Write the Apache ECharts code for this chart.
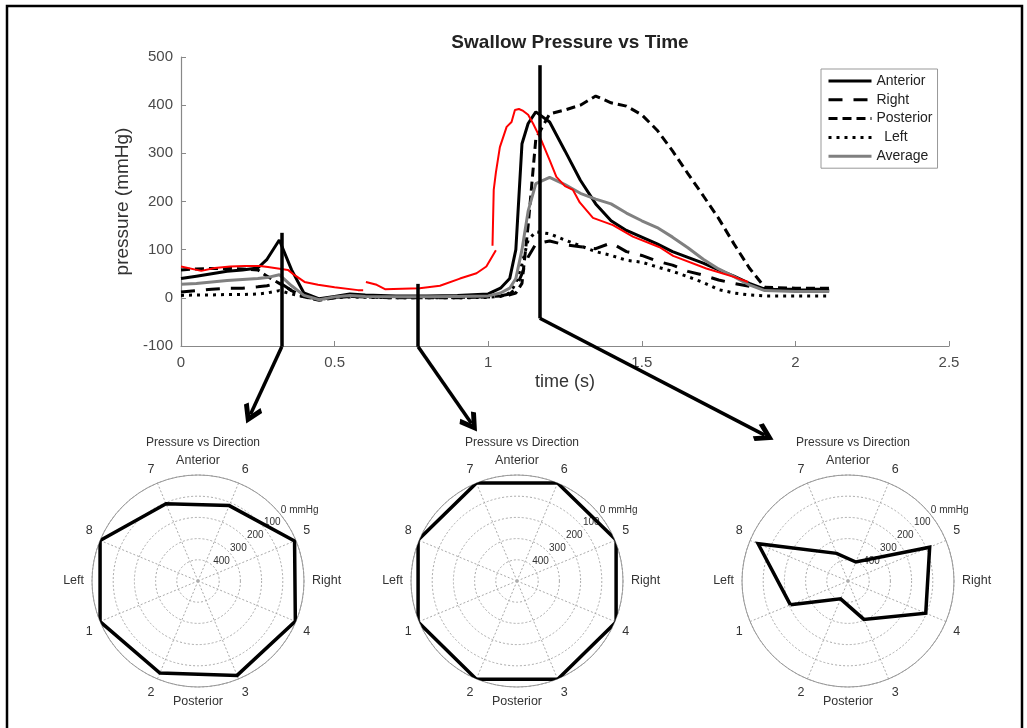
<!DOCTYPE html>
<html>
<head>
<meta charset="utf-8">
<title>Swallow Pressure vs Time</title>
<script src="https://cdn.jsdelivr.net/npm/echarts@6/dist/echarts.min.js"></script>
<style>
  html, body { margin: 0; padding: 0; background: #fff; }
  #chart { width: 1027px; height: 728px; }
</style>
</head>
<body>
<div id="chart"></div>
<script>
// time base (s) and pressure traces (mmHg)
const timeS = [0, 0.05, 0.1, 0.15, 0.2, 0.25, 0.28, 0.32, 0.36, 0.4, 0.45, 0.5, 0.55, 0.6, 0.7, 0.8, 0.9, 1.0,
  1.04, 1.07, 1.09, 1.11, 1.13, 1.155, 1.2, 1.25, 1.3, 1.35, 1.4, 1.45, 1.5, 1.55, 1.6, 1.65, 1.7, 1.75, 1.8,
  1.85, 1.9, 2.0, 2.11];
const anterior = [40, 45, 50, 55, 58, 62, 80, 120, 58, 10, -2, 3, 8, 6, 4, 4, 5, 8,
  20, 40, 100, 320, 362, 386, 365, 305, 244, 195, 160, 140, 126, 112, 96, 84, 72, 58, 45, 30, 18, 17, 16];
const right = [12, 15, 18, 20, 20, 23, 25, 32, 15, 3, -3, 1, 3, 2, 1, 1, 1, 2,
  4, 8, 20, 50, 85, 112, 118, 110, 106, 102, 114, 96, 88, 76, 68, 55, 47, 37, 30, 24, 18, 18, 18];
const posterior = [58, 60, 61, 61, 60, 58, 45, 30, 15, 2, -5, 0, 3, 2, 0, 0, 0, 2,
  4, 6, 10, 30, 150, 330, 382, 390, 400, 419, 405, 398, 380, 348, 305, 258, 212, 165, 112, 62, 22, 20, 20];
const left = [5, 6, 6, 7, 7, 8, 10, 15, 8, 2, -3, 0, 2, 1, 0, 0, 0, 1,
  3, 10, 30, 70, 120, 137, 133, 120, 108, 96, 88, 78, 74, 64, 55, 44, 32, 17, 10, 6, 4, 4, 4];
const average = [28, 30, 33, 36, 38, 40, 42, 48, 25, 5, -4, 2, 5, 3, 2, 2, 3, 4,
  10, 20, 40, 100, 180, 237, 250, 235, 217, 205, 195, 176, 160, 146, 126, 104, 80, 60, 44, 27, 15, 13, 13];

// hand-drawn red trace (null = pen lifted)
const redT = [0, 0.066, 0.11, 0.16, 0.207, 0.257, 0.283, 0.348, 0.37, 0.402, 0.446, 0.5, 0.576, 0.593, 0.598,
  0.602, 0.637, 0.664, 0.72, 0.777, 0.843, 0.908, 0.962, 0.994, 1.025, 1.02,
  1.014, 1.018, 1.025, 1.038, 1.06, 1.076, 1.087, 1.1, 1.114, 1.13, 1.146, 1.173, 1.2, 1.222,
  1.25, 1.276, 1.298, 1.341, 1.406, 1.471, 1.558, 1.602, 1.71, 1.797, 1.846];
const redV = [65, 56, 62, 65, 66, 66, 64, 58, 47, 33, 27, 22, 16, 16, null,
  33, 27, 18, 19, 20, 25, 40, 51, 65, 99, null,
  108, 224, 260, 313, 355, 365, 390, 392, 388, 380, 362, 327, 286, 251,
  232, 224, 198, 166, 151, 127, 105, 87, 61, 44, 33];

// annotation: stems at the snapshot times, then arrows down to the polar plots
const stemT = [0.328, 0.772, 1.168];
const stemTopV = [135, 29, 483];
const stemBottomV = [-101.5, -101.5, -42.5];
const arrowEndT = [0.226, 0.945, 1.9];
const arrowEndV = [-242, -260.6, -285];

// polar snapshots: sensors 1..8, pressure in mmHg
const sensorLabels = ['1', '2', '3', '4', '5', '6', '7', '8'];
const sensorAngles = [202.5, 247.5, 292.5, 337.5, 22.5, 67.5, 112.5, 157.5];
const directionLabels = ['Right', 'Anterior', 'Left', 'Posterior'];
const directionAngles = [0, 90, 180, 270];
const snapshots = [
  [0, 30, 18, 3, 7, 115, 106, 0],
  [-5, -1, -2, -6, -6, 0, 0, -5],
  [206, 409, 304, 103, 83, 403, 359, 41]
];
const radiusTicks = [0, 100, 200, 300, 400];

const FONT = '"Liberation Sans", Arial, Helvetica, sans-serif';
const polarCenters = [198, 517, 848];
const polarY = 581;
const polarR = 106;

function pairs(xs, ys) {
  return xs.map((x, i) => [x, ys[i]]);
}

function angleLabel(v) {
  let i = sensorAngles.findIndex(a => Math.abs(a - v) < 1e-6);
  if (i >= 0) return sensorLabels[i];
  i = directionAngles.findIndex(a => Math.abs(a - v) < 1e-6);
  return i >= 0 ? directionLabels[i] : '';
}

const chart = echarts.init(document.getElementById('chart'));

const lineSeries = (name, data, color, dash, width) => ({
  name: name,
  type: 'line',
  data: pairs(timeS, data),
  symbol: 'none',
  lineStyle: { color: color, width: width, type: dash, cap: 'butt' },
  itemStyle: { color: color },
  z: 3
});

const arrowPath = 'path://M10,0 L20,13 L16.5,16 L10,7.5 L3.5,16 L0,13 Z';

const polars = [];
const angleAxes = [];
const radiusAxes = [];
const titles = [{
  text: 'Swallow Pressure vs Time',
  left: 565, top: 28, textAlign: 'center',
  textStyle: { fontSize: 19, fontWeight: 'bold', color: '#222', fontFamily: FONT }
}];
const polarSeries = [];

polarCenters.forEach((cx, k) => {
  polars.push({ center: [cx, polarY], radius: polarR });
  polars.push({ center: [cx, polarY], radius: polarR });
  angleAxes.push({
    polarIndex: 2 * k, type: 'value', min: 0, max: 360, interval: 22.5,
    startAngle: 0, clockwise: false,
    axisLine: { lineStyle: { color: '#999', width: 1 } },
    axisTick: { show: false },
    axisLabel: { margin: 8, fontSize: 12.5, color: '#333', fontFamily: FONT, formatter: angleLabel },
    splitLine: { show: true, lineStyle: { color: ['rgba(0,0,0,0)', '#aaa'], width: 1, type: [2, 2] } }
  });
  angleAxes.push({
    polarIndex: 2 * k + 1, type: 'value', min: 0, max: 360, startAngle: 37, show: false
  });
  radiusAxes.push({
    polarIndex: 2 * k, type: 'value', min: 0, max: 500, interval: 100, inverse: true,
    axisLine: { show: false }, axisTick: { show: false }, axisLabel: { show: false },
    splitLine: { show: true, lineStyle: { color: '#aaa', width: 1, type: [2, 2] } }
  });
  radiusAxes.push({
    polarIndex: 2 * k + 1, type: 'value', min: 0, max: 500, interval: 100, inverse: true,
    axisLine: { show: false }, axisTick: { show: false }, splitLine: { show: false },
    axisLabel: {
      show: true, margin: 3, fontSize: 10, color: '#333', fontFamily: FONT,
      align: 'left', verticalAlign: 'bottom',
      formatter: v => radiusTicks.indexOf(v) < 0 ? '' : (v === 0 ? '0 mmHg' : String(v))
    }
  });
  titles.push({
    text: 'Pressure vs Direction',
    left: cx, top: 432, textAlign: 'center',
    textStyle: { fontSize: 12, fontWeight: 'normal', color: '#333', fontFamily: FONT }
  });
  const d = snapshots[k].map((p, i) => [p, sensorAngles[i]]);
  d.push(d[0]);
  polarSeries.push({
    type: 'line', coordinateSystem: 'polar', polarIndex: 2 * k,
    data: d, symbol: 'none', clip: false, silent: true,
    lineStyle: { color: '#000', width: 3.5, join: 'miter' }, z: 5
  });
});

const option = {
  animation: false,
  backgroundColor: '#fff',
  textStyle: { fontFamily: FONT },
  title: titles,
  legend: {
    data: ['Anterior', 'Right', 'Posterior', 'Left', 'Average'],
    orient: 'vertical',
    left: 821, top: 69,
    itemWidth: 43, itemHeight: 14, itemGap: 4.8,
    padding: [5, 5, 5, 6],
    borderColor: '#999', borderWidth: 1, backgroundColor: '#fff',
    itemStyle: { color: 'rgba(0,0,0,0)', borderColor: 'rgba(0,0,0,0)', borderWidth: 0, opacity: 0 },
    lineStyle: { width: 3 },
    textStyle: { fontSize: 14, color: '#222', fontFamily: FONT },
    formatter: name => name === 'Left' ? '  Left' : name
  },
  grid: { left: 181, top: 57, width: 768, height: 289 },
  xAxis: {
    type: 'value', min: 0, max: 2.5, interval: 0.5,
    name: 'time (s)', nameLocation: 'middle', nameGap: 27,
    nameTextStyle: { fontSize: 18, color: '#333', fontFamily: FONT },
    axisLine: { onZero: false, lineStyle: { color: '#888', width: 1.2 } },
    axisTick: { inside: true, length: 5, lineStyle: { color: '#888' } },
    axisLabel: { margin: 9, fontSize: 15, color: '#4a4a4a', fontFamily: FONT },
    splitLine: { show: false }
  },
  yAxis: {
    type: 'value', min: -100, max: 500, interval: 100,
    name: 'pressure (mmHg)', nameLocation: 'middle', nameGap: 34,
    nameTextStyle: { fontSize: 19, color: '#333', fontFamily: FONT },
    axisLine: { show: true, lineStyle: { color: '#888', width: 1.2 } },
    axisTick: { show: true, inside: true, length: 5, lineStyle: { color: '#888' } },
    axisLabel: { margin: 8, fontSize: 15, color: '#4a4a4a', fontFamily: FONT },
    splitLine: { show: false }
  },
  polar: polars,
  angleAxis: angleAxes,
  radiusAxis: radiusAxes,
  series: [
    lineSeries('Anterior', anterior, '#000', 'solid', 3),
    lineSeries('Right', right, '#000', [14, 11], 3),
    lineSeries('Posterior', posterior, '#000', [9, 5], 3),
    lineSeries('Left', left, '#000', [3, 5], 3),
    lineSeries('Average', average, '#808080', 'solid', 3),
    {
      name: 'red', type: 'line', data: pairs(redT, redV), symbol: 'none',
      connectNulls: false, lineStyle: { color: '#f00', width: 2 }, z: 6
    },
    {
      type: 'lines', coordinateSystem: 'cartesian2d', clip: false, silent: true, z: 7,
      symbol: 'none',
      lineStyle: { color: '#000', width: 3.5, opacity: 1 },
      data: stemT.map((t, i) => ({ coords: [[t, stemTopV[i]], [t, stemBottomV[i]]] }))
    },
    {
      type: 'lines', coordinateSystem: 'cartesian2d', clip: false, silent: true, z: 7,
      symbol: ['none', arrowPath], symbolSize: [0, 20],
      lineStyle: { color: '#000', width: 3.5, opacity: 1 },
      data: stemT.map((t, i) => ({ coords: [[t, stemBottomV[i]], [arrowEndT[i], arrowEndV[i]]] }))
    }
  ].concat(polarSeries),
  graphic: [{
    type: 'rect', silent: true,
    shape: { x: 7, y: 6, width: 1015, height: 730 },
    style: { fill: 'none', stroke: '#000', lineWidth: 2.5 }
  }]
};

chart.setOption(option);
</script>
</body>
</html>
